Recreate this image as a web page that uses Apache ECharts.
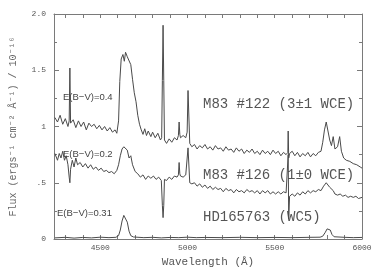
<!DOCTYPE html>
<html>
<head>
<meta charset="utf-8">
<script src="https://cdn.jsdelivr.net/npm/echarts@6/dist/echarts.min.js"></script>
<style>
html, body { margin: 0; padding: 0; background: #fff; }
#chart { width: 382px; height: 278px; }
</style>
</head>
<body>
<div id="chart"></div>
<script>
// M83 #122 (3±1 WCE)
var wave122 = [4240,4255,4270,4285,4300,4315,4322,4326,4330,4345,4360,4375,4390,4405,4420,4435,4450,4465,4480,4495,
    4510,4525,4540,4555,4570,4585,4595,4605,4612,4620,4630,4638,4645,4655,4665,4675,4685,4695,4705,4715,
    4725,4735,4745,4755,4765,4775,4790,4800,4815,4830,4845,4852,4856,4860,4864,4868,4880,4895,4910,4925,
    4940,4948,4952,4956,4960,4975,4990,4998,5003,5008,5013,5025,5040,5055,5070,5085,5100,5115,5130,5145,
    5160,5175,5190,5205,5220,5235,5250,5265,5280,5295,5310,5325,5340,5355,5370,5385,5400,5415,5430,5445,
    5460,5475,5490,5505,5520,5535,5550,5565,5575,5577,5580,5585,5600,5615,5630,5645,5660,5675,5690,5705,
    5720,5735,5750,5765,5775,5785,5795,5805,5815,5825,5835,5845,5860,5872,5882,5895,5910,5930,5950,5970,
    5990,6000];
var flux122 = [1.08,1.04,1.10,1.02,1.07,1.00,1.05,1.52,1.03,1.06,0.99,1.05,1.00,1.04,0.97,1.03,1.00,1.02,0.98,1.01,
    0.97,1.00,0.96,0.99,0.95,0.97,0.94,1.05,1.40,1.60,1.64,1.58,1.66,1.62,1.63,1.55,1.42,1.30,1.22,1.10,
    1.02,0.97,0.93,0.98,0.92,0.96,0.91,0.95,0.90,0.94,0.88,0.90,1.41,1.90,1.41,0.88,0.85,0.89,0.86,0.90,
    0.88,0.92,1.04,0.93,0.90,0.92,0.90,0.95,1.32,1.32,0.85,0.82,0.84,0.80,0.83,0.81,0.84,0.80,0.82,0.79,
    0.83,0.80,0.81,0.78,0.82,0.79,0.80,0.77,0.81,0.78,0.80,0.76,0.79,0.77,0.80,0.76,0.78,0.75,0.79,0.76,
    0.78,0.75,0.79,0.76,0.78,0.74,0.77,0.75,0.77,0.96,0.72,0.76,0.78,0.74,0.77,0.73,0.76,0.74,0.77,0.73,
    0.76,0.74,0.77,0.78,0.86,0.97,1.04,1.03,0.88,0.83,0.91,0.80,0.82,0.91,0.78,0.72,0.70,0.69,0.67,0.66,
    0.64,0.63];

// M83 #126 (1±0 WCE)
var wave126 = [4240,4255,4265,4275,4285,4295,4305,4315,4322,4326,4330,4340,4350,4360,4370,4385,4400,4415,4430,4445,
    4460,4475,4490,4505,4520,4535,4550,4565,4580,4595,4605,4615,4625,4635,4645,4655,4665,4675,4685,4700,
    4715,4730,4745,4760,4775,4790,4805,4820,4835,4850,4856,4860,4864,4868,4880,4895,4910,4925,4940,4948,
    4952,4956,4960,4975,4990,4998,5003,5008,5013,5025,5040,5055,5070,5085,5100,5115,5130,5145,5160,5175,
    5190,5205,5220,5235,5250,5265,5280,5295,5310,5325,5340,5355,5370,5385,5400,5415,5430,5445,5460,5475,
    5490,5505,5520,5535,5550,5565,5575,5577,5580,5585,5600,5615,5630,5645,5660,5675,5690,5705,5720,5735,
    5750,5765,5780,5795,5805,5815,5825,5835,5845,5860,5875,5890,5905,5920,5935,5950,5965,5980,6000];
var flux126 = [0.76,0.70,0.76,0.72,0.78,0.70,0.74,0.66,0.55,0.50,0.62,0.70,0.64,0.72,0.66,0.68,0.64,0.67,0.63,0.66,
    0.62,0.64,0.61,0.63,0.60,0.61,0.59,0.60,0.58,0.61,0.66,0.74,0.80,0.82,0.83,0.79,0.72,0.74,0.66,0.60,
    0.58,0.55,0.57,0.53,0.56,0.54,0.56,0.53,0.55,0.52,0.30,0.19,0.30,0.53,0.52,0.55,0.53,0.56,0.55,0.57,
    0.68,0.58,0.56,0.55,0.57,0.58,0.81,0.81,0.50,0.49,0.50,0.47,0.49,0.46,0.48,0.45,0.47,0.44,0.46,0.44,
    0.45,0.42,0.45,0.43,0.44,0.41,0.44,0.42,0.43,0.41,0.44,0.42,0.43,0.41,0.43,0.40,0.43,0.41,0.43,0.40,
    0.42,0.40,0.42,0.40,0.42,0.41,0.42,0.75,0.18,0.38,0.40,0.38,0.41,0.39,0.42,0.40,0.43,0.41,0.43,0.42,
    0.44,0.43,0.47,0.50,0.50,0.46,0.47,0.43,0.40,0.39,0.40,0.38,0.39,0.37,0.38,0.37,0.38,0.36,0.37];

// HD165763 (WC5)
var waveHD = [4240,4300,4350,4400,4450,4500,4550,4590,4605,4615,4625,4635,4645,4655,4665,4675,4690,4750,4800,4850,
    4900,4950,5000,5050,5100,5200,5300,5400,5500,5600,5700,5760,5775,5790,5800,5808,5818,5828,5840,5900,
    5950,6000];
var fluxHD = [0.010,0.015,0.008,0.014,0.010,0.016,0.012,0.015,0.03,0.08,0.16,0.21,0.20,0.15,0.07,0.03,0.018,0.012,0.015,0.010,
    0.014,0.012,0.016,0.012,0.014,0.012,0.015,0.012,0.014,0.012,0.015,0.016,0.025,0.06,0.09,0.10,0.08,0.04,0.02,0.015,
    0.012,0.014];

var xTicks = [4300,4400,4500,4600,4700,4800,4900,5000,5100,5200,5300,5400,5500,5600,5700,5800,5900,6000];
var xTickLabels = [4500, 5000, 5500, 6000];
var yTicks = [0, 0.5, 1, 1.5, 2];
var yTickLabels = ['0', '.5', '1', '1.5', '2.0'];

var lineColor = '#4a4a4a';
var axisColor = '#7a7a7a';
var mono = '"Liberation Mono", "DejaVu Sans Mono", monospace';

function zip(w, f) {
    var out = [];
    for (var i = 0; i < w.length; i++) {
        out.push([w[i], f[i]]);
    }
    return out;
}

function spectrum(name, w, f) {
    return {
        name: name,
        type: 'line',
        data: zip(w, f),
        showSymbol: false,
        symbol: 'none',
        silent: true,
        lineStyle: { color: lineColor, width: 1 }
    };
}

function xAxisBase(pos, showLabel) {
    return {
        type: 'value',
        position: pos,
        min: 4235,
        max: 6000,
        name: showLabel ? 'Wavelength (Å)' : '',
        nameLocation: 'middle',
        nameGap: 18,
        nameTextStyle: { fontFamily: mono, fontSize: 11, color: '#555' },
        axisLine: { show: true, onZero: false, lineStyle: { color: axisColor, width: 1 } },
        axisTick: { show: true, inside: true, length: 4, customValues: xTicks, lineStyle: { color: axisColor } },
        axisLabel: {
            show: showLabel,
            customValues: xTickLabels,
            fontFamily: mono,
            fontSize: 8,
            color: '#555',
            margin: 5,
            formatter: function (v) { return String(v); }
        },
        splitLine: { show: false }
    };
}

function yAxisBase(pos, showLabel) {
    return {
        type: 'value',
        position: pos,
        min: 0,
        max: 2,
        interval: 0.5,
        name: showLabel ? 'Flux (ergs⁻¹ cm⁻² Å⁻¹) / 10⁻¹⁶' : '',
        nameLocation: 'middle',
        nameGap: 36,
        nameRotate: 90,
        nameTextStyle: { fontFamily: mono, fontSize: 10, color: '#666' },
        axisLine: { show: true, onZero: false, lineStyle: { color: axisColor, width: 1 } },
        axisTick: { show: true, inside: true, length: 5, lineStyle: { color: axisColor } },
        minorTick: { show: true, splitNumber: 2, length: 3, lineStyle: { color: axisColor } },
        axisLabel: {
            show: showLabel,
            fontFamily: mono,
            fontSize: 8,
            color: '#555',
            margin: 8,
            formatter: function (v) {
                var i = yTicks.indexOf(v);
                return i >= 0 ? yTickLabels[i] : '';
            }
        },
        splitLine: { show: false }
    };
}

function label(text, x, y, font, color) {
    return {
        type: 'text',
        x: x,
        y: y,
        silent: true,
        style: {
            text: text,
            font: font,
            fill: color,
            verticalAlign: 'middle',
            textVerticalAlign: 'middle'
        }
    };
}

var chart = echarts.init(document.getElementById('chart'), null, { renderer: 'canvas' });
chart.setOption({
    animation: false,
    backgroundColor: '#fff',
    grid: { left: 53, right: 20, top: 14, bottom: 39 },
    xAxis: [xAxisBase('bottom', true), xAxisBase('top', false)],
    yAxis: [yAxisBase('left', true), yAxisBase('right', false)],
    series: [
        spectrum('M83 #122', wave122, flux122),
        spectrum('M83 #126', wave126, flux126),
        spectrum('HD165763', waveHD, fluxHD)
    ],
    graphic: [
        label('E(B−V)=0.4', 63, 97, '9.5px "Liberation Sans", sans-serif', '#444'),
        label('E(B−V)=0.2', 63, 154, '9.5px "Liberation Sans", sans-serif', '#444'),
        label('E(B−V)=0.31', 57, 213, '9.5px "Liberation Sans", sans-serif', '#444'),
        label('M83 #122 (3±1 WCE)', 203, 104, '14px ' + mono, '#555'),
        label('M83 #126 (1±0 WCE)', 203, 175, '14px ' + mono, '#555'),
        label('HD165763 (WC5)', 203, 217, '14px ' + mono, '#555')
    ]
});
</script>
</body>
</html>
